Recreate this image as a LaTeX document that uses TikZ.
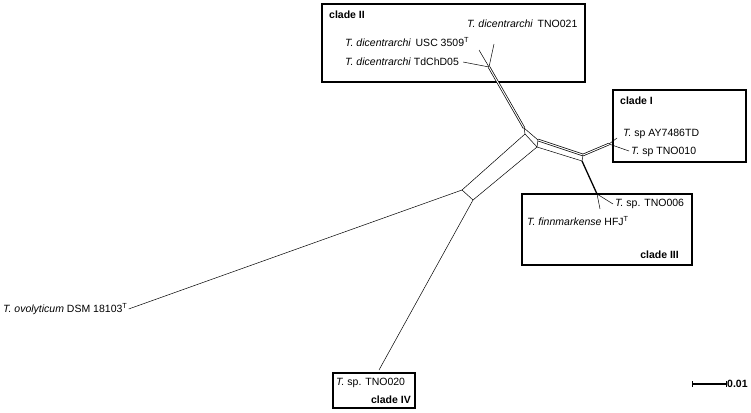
\documentclass[tikz,border=0pt]{standalone}
\usepackage{fontspec}
\setmainfont{Liberation Sans}
\begin{document}
\begin{tikzpicture}[x=1pt,y=-1pt,
  lab/.style={font=\fontsize{10.5}{12}\selectfont,inner sep=0pt},
  cladelab/.style={font=\fontsize{10.5}{12}\selectfont\bfseries,inner sep=0pt},
  cladebox/.style={draw,line width=1.5pt},
  edge/.style={line width=0.5pt},
  dbl/.style={line width=0.7pt,double,double distance=1pt}]
\useasboundingbox (0,0) rectangle (751,412);

\path[draw,cladebox] (322,4) rectangle (585,82);
\path[draw,cladebox] (613,90) rectangle (746,162);
\path[draw,cladebox] (522,194) rectangle (692,265);
\path[draw,cladebox] (333,373) rectangle (415,408);

\node[cladelab,anchor=west] (cII) at (329,15) {clade II};
\node[cladelab,anchor=west] (cI) at (620,101) {clade I};
\node[cladelab,anchor=east] (cIII) at (679,255) {clade III};
\node[cladelab,anchor=east] (cIV) at (411,400) {clade IV};

\node[lab,anchor=west] (tno21) at (467,24) {\textit{T. dicentrarchi}\, TNO021};
\node[lab,anchor=west] (usc) at (345,42) {\textit{T. dicentrarchi}\, USC 3509\textsuperscript{T}};
\node[lab,anchor=west] (tdch) at (345,62) {\textit{T. dicentrarchi} TdChD05};
\node[lab,anchor=west] (ay) at (623,134) {\textit{T.} sp AY7486TD};
\node[lab,anchor=west] (tno10) at (631,152) {\textit{T.} sp TNO010};
\node[lab,anchor=west] (tno6) at (615,204) {\textit{T.} sp. TNO006};
\node[lab,anchor=west] (finn) at (527,221) {\textit{T. finnmarkense} HFJ\textsuperscript{T}};
\node[lab,anchor=west] (ovo) at (3,309) {\textit{T. ovolyticum} DSM 18103\textsuperscript{T}};
\node[lab,anchor=west] (tno20) at (336,383) {\textit{T.} sp. TNO020};
\node[font=\fontsize{10.5}{12}\selectfont\bfseries,inner sep=0pt,anchor=west] (scl) at (727,384) {0.01};

\coordinate (hII) at (489,67);
\coordinate (hA) at (524,128);
\coordinate (hB) at (525,134);
\coordinate (hF) at (538,140);
\coordinate (hE) at (537,147);
\coordinate (rA) at (583,155);
\coordinate (rB) at (582,161);
\coordinate (hI) at (609,144);
\coordinate (h3) at (597,194);
\coordinate (pL) at (462,190);
\coordinate (pR) at (473,200);
\coordinate (s1) at (692,384);
\coordinate (s2) at (726,384);

\path[draw,edge] (hII) -- ([xshift=4pt]tdch.east);
\path[draw,edge] (hII) -- (479,50);
\path[draw,edge] (hII) -- (494,44);
\path[draw,dbl] (hII) -- (hA);

\path[draw,edge] (hA) -- (hB) -- (hE) -- (hF) -- cycle;
\path[draw,dbl] (hF) -- (rA);
\path[draw,edge] (hE) -- (rB) -- (rA);
\path[draw,edge] (hB) -- (pL) -- (pR) -- (hE);

\path[draw,edge] (pL) -- ([xshift=1pt]ovo.east);
\path[draw,edge] (pR) -- (379,370);

\path[draw,dbl] (rA) -- (hI);
\path[draw,edge] (hI) -- (617,138);
\path[draw,edge] (hI) -- (629,151);

\path[draw,line width=1.3pt] (rB) -- (h3);
\path[draw,edge] (h3) -- ([xshift=-2pt]tno6.west);
\path[draw,edge] (h3) -- (600,209);

\path[draw,line width=1.2pt] (s1) -- (s2);
\path[draw,edge] (692,381) -- (692,387);
\path[draw,edge] (726,381) -- (726,387);
\end{tikzpicture}
\end{document}
